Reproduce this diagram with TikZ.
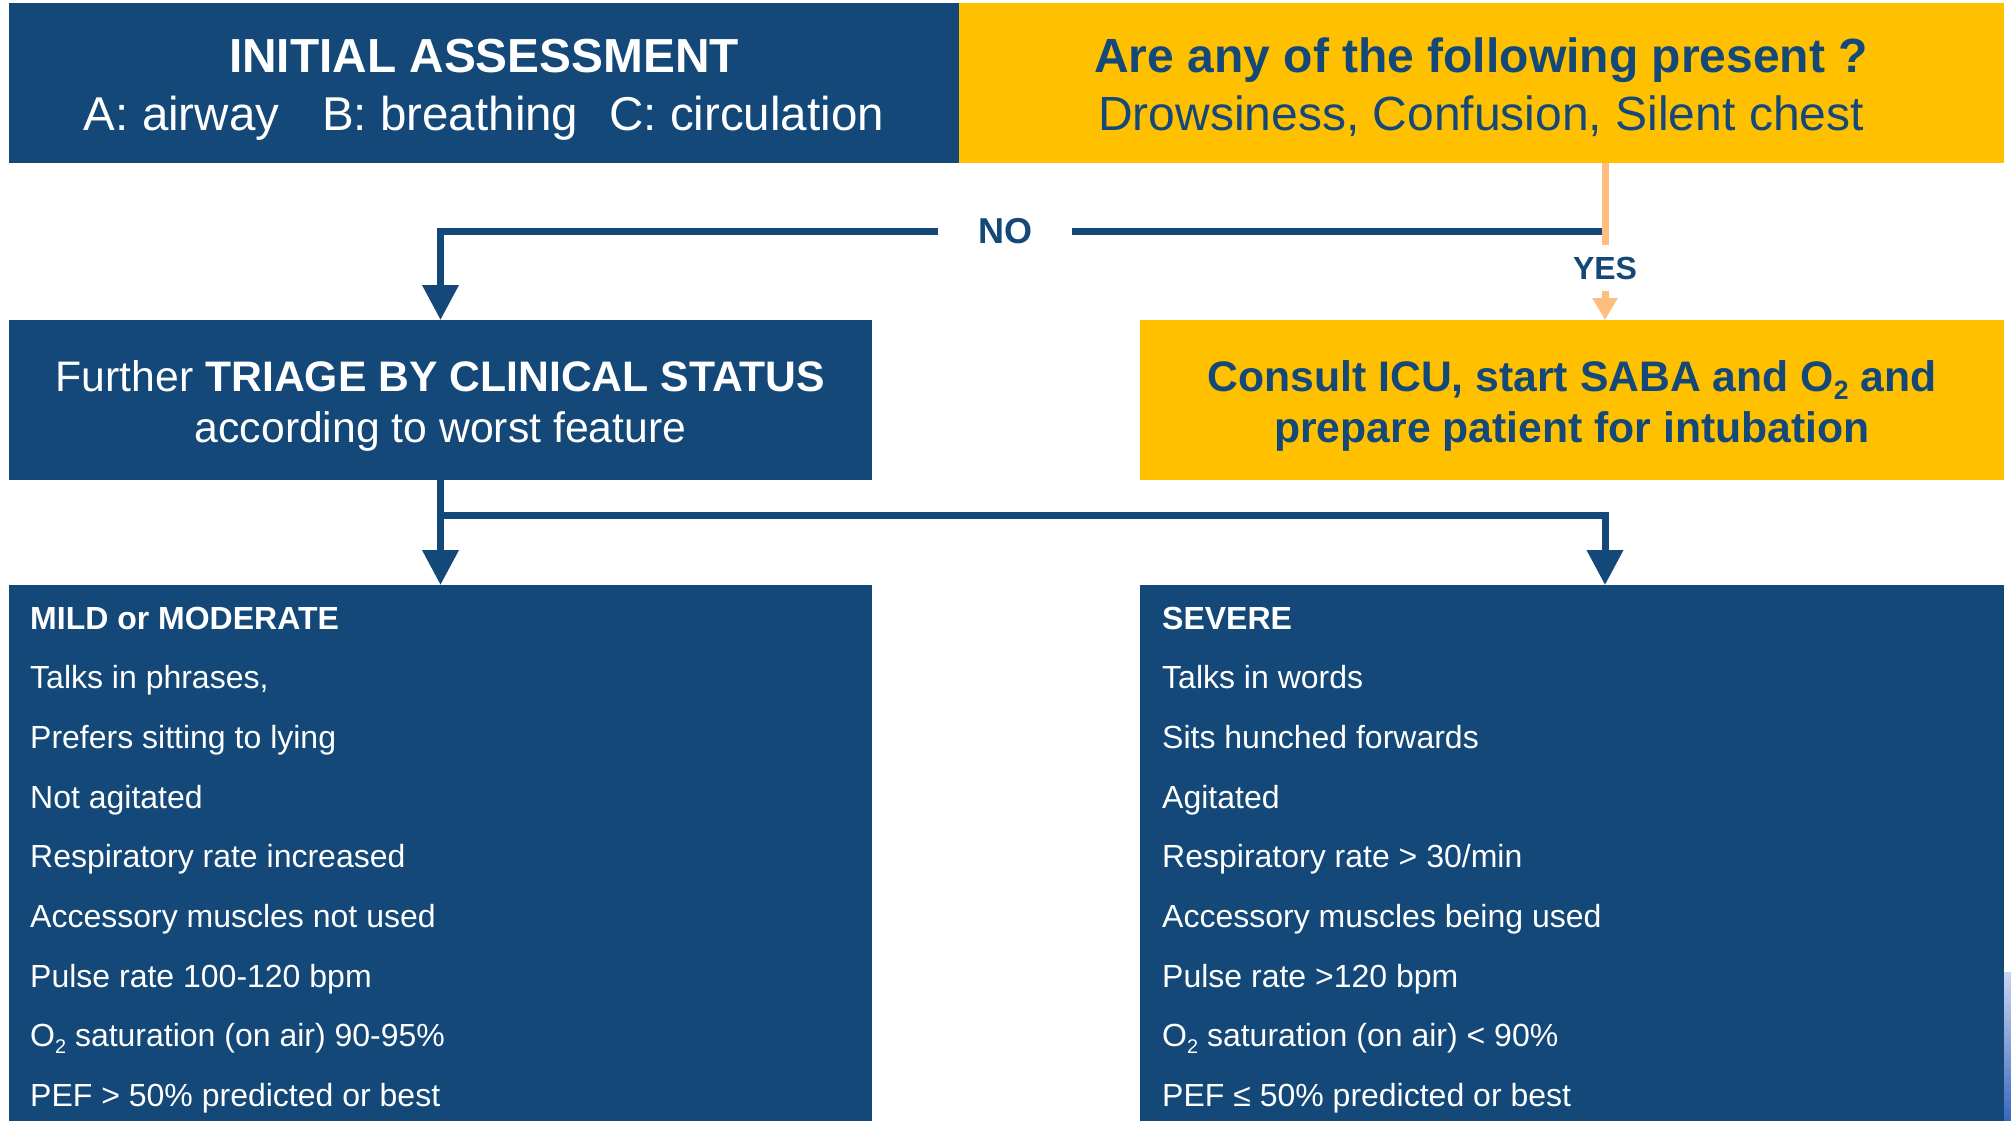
\documentclass[tikz,border=0pt]{standalone}
\usepackage{fontspec}
\setmainfont{Liberation Sans}
\usetikzlibrary{arrows.meta,calc}
\definecolor{dblue}{HTML}{134878}
\definecolor{gyellow}{HTML}{FFC000}
\definecolor{lorange}{HTML}{FFBE7F}
\definecolor{skytop}{HTML}{C9D6F0}
\definecolor{skybot}{HTML}{3A67C0}
\newcommand{\fs}[1]{\fontsize{#1}{#1}\selectfont}
\newcommand{\lowtwo}{\raisebox{-0.2em}{\scalebox{0.62}{2}}}
\begin{document}
\begin{tikzpicture}[x=1pt,y=-1pt,
  box/.style={draw=none, inner sep=0pt, outer sep=0pt, anchor=north west},
  bluebox/.style={box, fill=dblue},
  yelbox/.style={box, fill=gyellow},
  wtxt/.style={text=white, inner sep=0pt, anchor=base},
  btxt/.style={text=dblue, inner sep=0pt, anchor=base},
  bline/.style={draw=dblue, line width=7pt},
  barrow/.style={bline, -{Triangle[width=35pt,length=35pt]}},
  oarrow/.style={draw=lorange, line width=7pt, -{Triangle[width=24pt,length=22pt]}},
  lbl/.style={fill=white, text=dblue, inner sep=0pt}
]
\useasboundingbox (0,0) rectangle (2011,1121);

% background sliver at the right edge
\shade[top color=skytop, bottom color=skybot] (2004,972) rectangle (2011,1121);

% boxes
\node[bluebox, minimum width=950pt, minimum height=160pt] (ia) at (9,3) {};
\node[yelbox, minimum width=1045pt, minimum height=160pt] (q) at (959,3) {};
\node[bluebox, minimum width=863pt, minimum height=160pt] (tri) at (9,320) {};
\node[yelbox, minimum width=864pt, minimum height=160pt] (icu) at (1140,320) {};
\node[bluebox, minimum width=863pt, minimum height=536pt] (mild) at (9,585) {};
\node[bluebox, minimum width=864pt, minimum height=536pt] (sev) at (1140,585) {};

% box texts
\node[wtxt, font={\fs{47.8}\bfseries}] (ia1) at (484,73) {INITIAL ASSESSMENT};
\node[wtxt, font={\fs{47.5}}] (ia2) at (484,131) {A: airway\hspace{43pt}B: breathing\hspace{31pt}C: circulation};
\node[btxt, font={\fs{48}\bfseries}] (q1) at (1481,73) {Are any of the following present ?};
\node[btxt, font={\fs{48}}] (q2) at (1481,131) {Drowsiness, Confusion, Silent chest};
\node[wtxt, font={\fs{42.7}}] (t1) at (440.5,391) {Further \textbf{TRIAGE BY CLINICAL STATUS}};
\node[wtxt, font={\fs{42.7}}] (t2) at (440.5,442) {according to worst feature};
\node[btxt, font={\fs{42.7}\bfseries}] (c1) at (1572,391) {Consult ICU, start SABA and O\lowtwo{} and};
\node[btxt, font={\fs{42.7}\bfseries}] (c2) at (1572,442) {prepare patient for intubation};

% lists
\foreach \t [count=\i from 0] in {{\textbf{MILD or MODERATE}}, {Talks in phrases,}, {Prefers sitting to lying}, {Not agitated}, {Respiratory rate increased}, {Accessory muscles not used}, {Pulse rate 100-120 bpm}, {O\lowtwo{} saturation (on air) 90-95\%}, {PEF > 50\% predicted or best}}
  \node[wtxt, anchor=base west, font={\fs{32}}] (m\i) at (30,{629+59.7*\i}) {\t};
\foreach \t [count=\i from 0] in {{\textbf{SEVERE}}, {Talks in words}, {Sits hunched forwards}, {Agitated}, {Respiratory rate > 30/min}, {Accessory muscles being used}, {Pulse rate >120 bpm}, {O\lowtwo{} saturation (on air) < 90\%}, {PEF ≤ 50\% predicted or best}}
  \node[wtxt, anchor=base west, font={\fs{32}}] (s\i) at (1162,{629+59.7*\i}) {\t};

% connectors
\coordinate (jx) at (1605,231);
\draw[barrow] (jx) -- node[lbl, pos=0.515, inner xsep=40pt, inner ysep=3pt, font={\fs{36}\bfseries}] {NO} (jx -| tri.north) -- (tri.north);
\draw[oarrow] (q.south -| jx) -- node[lbl, pos=0.669, inner xsep=2pt, inner ysep=12pt, font={\fs{32}\bfseries}] {YES} (icu.north -| jx);

\coordinate (br) at ($(tri.south)+(0,35)$);
\draw[barrow] (tri.south) -- (mild.north);
\draw[barrow] (br) -- (br -| jx) -- (sev.north -| jx);
\end{tikzpicture}
\end{document}
